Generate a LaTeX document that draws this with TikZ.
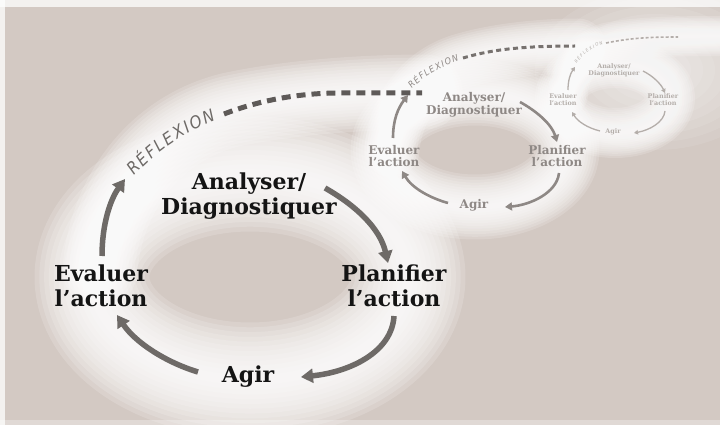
\documentclass[tikz,border=0pt]{standalone}
\usepackage{fontspec}
\setmainfont{DejaVu Serif}
\newfontfamily\reffont{DejaVu Sans Condensed}
\usetikzlibrary{arrows.meta,decorations.text}
\definecolor{bgc}{HTML}{D3C9C3}
\definecolor{arrA}{HTML}{6E6A67}
\definecolor{dashA}{HTML}{5E5A58}
\definecolor{txtB}{HTML}{8E8885}
\definecolor{dashB}{HTML}{77726F}
\definecolor{txtC}{HTML}{B4AEAA}
\newcommand\glowpath[2]{%
  \foreach \k in {1,...,12}{\draw[white, opacity=0.16, line width={#1*\k/12}, line cap=round, line join=round] #2;}}
\tikzset{
  bigtxt/.style={font=\bfseries\fontsize{22}{25}\selectfont, text=black!92, align=center, inner sep=0pt},
  medtxt/.style={font=\bfseries\fontsize{12}{12.5}\selectfont, text=txtB, align=center, inner sep=0pt},
  smltxt/.style={font=\bfseries\fontsize{6.4}{7}\selectfont, text=txtC, align=center, inner sep=0pt},
  bigarr/.style={draw=arrA, line width=5.5pt, -{Triangle[length=12pt,width=14pt]}},
  medarr/.style={draw=txtB, line width=2.6pt, -{Triangle[length=7pt,width=8pt]}},
  smlarr/.style={draw=txtC, line width=1.3pt, -{Triangle[length=4pt,width=4.5pt]}},
}
\begin{document}
\begin{tikzpicture}[x=1pt,y=-1pt]
\useasboundingbox (0,0) rectangle (720,425);
\fill[bgc] (0,0) rectangle (720,425);
% glows
\glowpath{115}{(250,277) ellipse [x radius=158, y radius=103]}
\glowpath{75}{(100,270) .. controls (105,200) and (150,130) .. (230,110) .. controls (300,95) and (380,92) .. (425,92)}
\glowpath{65}{(475,150) ellipse [x radius=92, y radius=57]}
\glowpath{55}{(392,150) .. controls (395,110) and (420,72) .. (465,60) .. controls (500,50) and (545,46) .. (578,46)}
\glowpath{50}{(615,98) ellipse [x radius=55, y radius=35]}
\glowpath{40}{(568,95) .. controls (568,70) and (585,50) .. (606,43) .. controls (630,38) and (660,36) .. (720,36)}
\foreach \r in {10,20,...,100}{\fill[white,opacity=0.09] (655,70) ellipse [x radius={\r*1.2}, y radius={\r*0.8}];}
% edge strips
\fill[white,opacity=0.75] (0,0) rectangle (720,7);
\fill[white,opacity=0.75] (0,0) rectangle (5,425);
\fill[white,opacity=0.3] (0,420) rectangle (720,425);
% big cycle
\node[bigtxt] (bA) at (249,196) {Analyser/\\Diagnostiquer};
\node[bigtxt] (bP) at (394,286) {Planifier\\l’action};
\node[bigtxt] (bE) at (101,286) {Evaluer\\l’action};
\node[bigtxt] (bG) at (248,377) {Agir};
\draw[bigarr] (325,188) .. controls (355,205) and (380,228) .. (388,263);
\draw[bigarr] (394,316) .. controls (392,352) and (350,372) .. (301,377);
\draw[bigarr] (198,372) .. controls (165,362) and (135,342) .. (117,315);
\draw[bigarr] (102,256) .. controls (102,225) and (110,200) .. (125,179);
\path[decorate, decoration={text along path, text align={fit to path}, text={|\reffont\itshape\fontsize{17}{17}\selectfont\color{arrA}|RÉFLEXION}}]
  (134,176) .. controls (158,150) and (185,132) .. (216,120);
\draw[dashA, line width=5pt, dash pattern=on 9pt off 6pt] (224,114) .. controls (260,100) and (300,93) .. (340,93) -- (422,93);
% medium cycle
\node[medtxt] (mA) at (474,105) {Analyser/\\Diagnostiquer};
\node[medtxt] (mP) at (557,156) {Planifier\\l’action};
\node[medtxt] (mE) at (394,156) {Evaluer\\l’action};
\node[medtxt] (mG) at (474,205) {Agir};
\draw[medarr] (520,102) .. controls (538,112) and (552,125) .. (557,142);
\draw[medarr] (559,173) .. controls (557,193) and (530,205) .. (505,207);
\draw[medarr] (448,203) .. controls (430,198) and (412,188) .. (402,171);
\draw[medarr] (393,138) .. controls (393,120) and (398,108) .. (408,95);
\path[decorate, decoration={text along path, text align={fit to path}, text={|\reffont\itshape\fontsize{9}{9}\selectfont\color{txtB}|RÉFLEXION}}]
  (412,89) .. controls (424,76) and (440,67) .. (459,61);
\draw[dashB, line width=3pt, dash pattern=on 5pt off 3.5pt] (463,58) .. controls (490,50) and (520,46) .. (575,46);
% small cycle
\node[smltxt] (sA) at (614,70) {Analyser/\\Diagnostiquer};
\node[smltxt] (sP) at (663,100) {Planifier\\l’action};
\node[smltxt] (sE) at (563,100) {Evaluer\\l’action};
\node[smltxt] (sG) at (613,132) {Agir};
\draw[smlarr] (643,71) .. controls (653,76) and (661,84) .. (665,93);
\draw[smlarr] (665,111) .. controls (664,122) and (650,130) .. (634,133);
\draw[smlarr] (600,131) .. controls (588,128) and (578,122) .. (572,112);
\draw[smlarr] (568,90) .. controls (568,81) and (570,74) .. (575,67);
\path[decorate, decoration={text along path, text align={fit to path}, text={|\reffont\itshape\fontsize{4.5}{4.5}\selectfont\color{txtC}|RÉFLEXION}}]
  (577,64) .. controls (583,55) and (591,48) .. (603,44);
\draw[txtC, line width=1.6pt, dash pattern=on 3pt off 2pt] (606,43) .. controls (630,38) and (650,37) .. (678,37);
\end{tikzpicture}
\end{document}
